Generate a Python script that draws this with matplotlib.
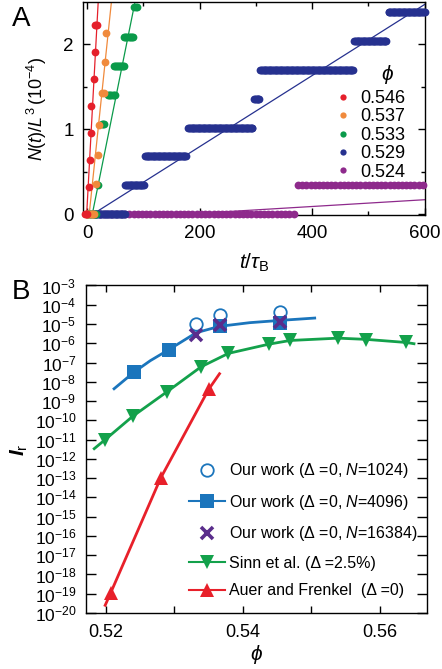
import numpy as np
import matplotlib
matplotlib.use('Agg')
import matplotlib.pyplot as plt
from matplotlib.ticker import FixedLocator, FixedFormatter
from matplotlib.lines import Line2D

plt.rcParams['font.family'] = ['Liberation Sans', 'DejaVu Sans']
plt.rcParams['mathtext.fontset'] = 'custom'
plt.rcParams['mathtext.rm'] = 'Liberation Sans'
plt.rcParams['mathtext.it'] = 'Liberation Sans:italic'
plt.rcParams['mathtext.bf'] = 'Liberation Sans:bold'
plt.rcParams['mathtext.bfit'] = 'Liberation Sans:italic:bold'
plt.rcParams['axes.linewidth'] = 1.0

# ---------------- Panel A data ----------------
phi_a = ['0.546', '0.537', '0.533', '0.529', '0.524']
colors_a = ['#e5202b', '#f08a3c', '#0a9a4a', '#26318f', '#8e2a8c']
# steps: (N/L^3 level, first sample time, last sample time)
steps_546 = [(0, -4, 0), (0.32, 4, 4), (0.64, 5, 5), (0.96, 6, 6), (1.28, 7.5, 7.5),
             (1.59, 11.5, 11.5), (1.91, 13, 13), (2.23, 14, 17)]
steps_537 = [(0, 0, 12), (0.36, 15, 16), (0.70, 19, 19), (1.05, 20.5, 20.5),
             (1.43, 27, 29), (1.79, 31, 31), (2.13, 33, 33)]
steps_533 = [(0, 0, 15), (0.34, 19.5, 19.5), (1.06, 27, 30), (1.40, 37, 49),
             (1.75, 47, 66), (2.09, 65, 82), (2.44, 84, 88)]
steps_529 = [(0, 10, 67), (0.34, 68, 101), (0.68, 103, 176), (1.02, 180, 294),
             (1.36, 297, 306), (1.70, 308, 473), (2.04, 475, 532), (2.38, 536, 600)]
steps_524 = [(0, 0, 367), (0.34, 375, 597)]
sample_dt = [2.0, 2.0, 2.0, 1.5, 7.5]
# fitted straight lines: (t_start, t_end), (y_start, y_end)
fit_t = [(-1, 19.5), (3.5, 43), (9, 85), (10, 600), (174, 600)]
fit_y = [(0, 2.5), (0, 2.5), (0, 2.5), (0, 2.47), (0, 0.17)]

# ---------------- Panel B data ----------------
phi_1024 = [0.5332, 0.5366, 0.5455]
I_1024 = [1.0e-5, 3.0e-5, 4.0e-5]
phi_4096 = [0.5241, 0.5292, 0.5366, 0.5455]
I_4096 = [3.2e-8, 4.7e-7, 8.0e-6, 1.2e-5]
fit4096_phi = [0.5212, 0.5241, 0.5265, 0.5292, 0.5332, 0.5366, 0.5410, 0.5455, 0.5505]
fit4096_I = [10**-8.36, 10**-7.5, 10**-6.9, 10**-6.33, 10**-5.45, 10**-5.12, 10**-4.93, 10**-4.81, 10**-4.69]
phi_16384 = [0.5332, 0.5366, 0.5455]
I_16384 = [2.8e-6, 9.0e-6, 1.3e-5]
phi_sinn = [0.5199, 0.5239, 0.5289, 0.5339, 0.5379, 0.5438, 0.5469, 0.5539, 0.5580, 0.5639]
I_sinn = [1.0e-11, 1.6e-10, 3.0e-9, 6.0e-8, 3.0e-7, 9.0e-7, 1.5e-6, 1.9e-6, 1.5e-6, 1.1e-6]
fitsinn_phi = [0.5183, 0.5199, 0.5239, 0.5289, 0.5339, 0.5379, 0.5438, 0.5469, 0.5539, 0.5580, 0.5639, 0.5650]
fitsinn_I = [10**-11.47, 1.0e-11, 1.6e-10, 3.0e-9, 6.0e-8, 3.0e-7, 9.0e-7, 1.4e-6, 1.85e-6, 1.6e-6, 1.1e-6, 0.95e-6]
phi_af = [0.5207, 0.5280, 0.5350]
I_af = [1.1e-19, 1.0e-13, 4.0e-9]
fitaf_phi = [0.5199, 0.5207, 0.5280, 0.5350, 0.5366]
fitaf_I = [10**-19.6, 1.1e-19, 1.0e-13, 4.0e-9, 10**-7.58]
legend_b = ['Our work (\u0394 =0, $N$=1024)', 'Our work (\u0394 =0, $N$=4096)',
            'Our work (\u0394 =0, $N$=16384)', 'Sinn et al. (\u0394 =2.5%)',
            'Auer and Frenkel  (\u0394 =0)']
decades = list(range(-20, -2))

W, H = 442, 669
fig = plt.figure(figsize=(W / 100, H / 100), dpi=100)

def fx(px):
    return px / W

def fy(py):
    return 1 - py / H

# ---------------- Panel A ----------------
axA = fig.add_axes([fx(83.3), fy(215), fx(424.5) - fx(83.3), fy(2) - fy(215)])
all_steps = [steps_546, steps_537, steps_533, steps_529, steps_524]
for c, (t0, t1), (y0, y1) in zip(colors_a, fit_t, fit_y):
    axA.plot([t0, t1], [y0, y1], color=c, lw=0.9, zorder=2)
order = [4, 3, 2, 1, 0]
for i in order:
    ts, ys = [], []
    for lev, t0, t1 in all_steps[i]:
        n = max(1, int(round((t1 - t0) / sample_dt[i])) + 1)
        tt = np.linspace(t0, t1, n)
        ts.extend(tt)
        ys.extend([lev] * n)
    axA.plot(ts, ys, 'o', color=colors_a[i], ms=5.6, mew=0, clip_on=False, zorder=3 + (5 - i))

axA.set_xlim(-7, 600)
axA.set_ylim(-0.01, 2.5)
axA.xaxis.set_major_locator(FixedLocator([0, 200, 400, 600]))
axA.xaxis.set_minor_locator(FixedLocator([100, 300, 500]))
axA.yaxis.set_major_locator(FixedLocator([0, 1, 2]))
axA.yaxis.set_minor_locator(FixedLocator([0.5, 1.5]))
axA.tick_params(which='both', direction='in', top=True, right=True, labelsize=13.5)
axA.tick_params(which='major', length=5, width=1.0, pad=7)
axA.tick_params(which='minor', length=3, width=1.0)
axA.set_ylabel(r'$N(t)/L^{3}\,(10^{-4})$', fontsize=13, labelpad=10)
axA.set_xlabel(r'$t/\tau_{\mathrm{B}}$', fontsize=15, labelpad=7)

handles = [Line2D([], [], marker='o', ls='none', color=c, ms=4.5, mew=0) for c in colors_a]
axA.legend(handles, phi_a, loc='upper left', bbox_to_anchor=(fx(335), fy(90)),
           bbox_transform=fig.transFigure, frameon=False, fontsize=13,
           handlelength=0.9, handletextpad=0.5, labelspacing=0.08,
           borderpad=0, borderaxespad=0)
fig.text(fx(387), fy(75), r'$\phi$', fontsize=15, ha='center', va='center')
fig.text(fx(12), fy(6), 'A', fontsize=20, ha='left', va='top')

# ---------------- Panel B ----------------
axB = fig.add_axes([fx(86), fy(613), fx(427) - fx(86), fy(285.5) - fy(613)])
axB.set_yscale('log')
axB.plot(fit4096_phi, fit4096_I, color='#1b75bc', lw=2.0, zorder=2)
axB.plot(fitsinn_phi, fitsinn_I, color='#13a14b', lw=2.0, zorder=2)
axB.plot(fitaf_phi, fitaf_I, color='#e8202a', lw=2.0, zorder=2)
axB.plot(phi_4096, I_4096, 's', color='#1b75bc', ms=9.5, mew=0, zorder=3)
axB.plot(phi_1024, I_1024, 'o', mfc='none', mec='#1b75bc', ms=9, mew=1.3, zorder=4)
axB.plot(phi_16384, I_16384, 'x', color='#5a2d8c', ms=9, mew=2.6, zorder=5)
axB.plot(phi_sinn, I_sinn, 'v', color='#13a14b', ms=9.5, mew=0, zorder=3)
axB.plot(phi_af, I_af, '^', color='#e8202a', ms=9.5, mew=0, zorder=3)

axB.set_xlim(0.5171, 0.5669)
axB.set_ylim(1e-20, 1e-3)
axB.xaxis.set_major_locator(FixedLocator([0.52, 0.54, 0.56]))
axB.xaxis.set_minor_locator(FixedLocator([0.53, 0.55]))
axB.xaxis.set_major_formatter(FixedFormatter(['0.52', '0.54', '0.56']))
ticks = [10.0 ** d for d in decades]
axB.yaxis.set_major_locator(FixedLocator(ticks))
axB.yaxis.set_major_formatter(FixedFormatter([r'$10^{%d}$' % d for d in decades]))
axB.yaxis.set_minor_locator(FixedLocator([]))
axB.tick_params(which='both', direction='in', top=True, right=True)
axB.tick_params(axis='x', which='major', length=5, width=1.0, pad=8, labelsize=13)
axB.tick_params(axis='x', which='minor', length=5, width=1.0)
axB.tick_params(axis='y', which='major', length=7, width=1.0, pad=7, labelsize=12.5)
axB.set_xlabel(r'$\phi$', fontsize=15, labelpad=1)
axB.set_ylabel(r'$\mathbfit{I}_{\mathrm{r}}$', fontsize=15, labelpad=3)

hb = [Line2D([], [], marker='o', ls='none', mfc='none', mec='#1b75bc', ms=9, mew=1.3),
      Line2D([], [], marker='s', color='#1b75bc', ms=9.5, mew=0, lw=1.5),
      Line2D([], [], marker='x', ls='none', color='#5a2d8c', ms=9, mew=2.6),
      Line2D([], [], marker='v', color='#13a14b', ms=9.5, mew=0, lw=1.5),
      Line2D([], [], marker='^', color='#e8202a', ms=9.5, mew=0, lw=1.5)]
axB.legend(hb, legend_b, loc='upper left', bbox_to_anchor=(fx(189), fy(461.5)),
           bbox_transform=fig.transFigure, frameon=False, fontsize=11.5,
           handlelength=2.25, handletextpad=0.25, labelspacing=0.78,
           borderpad=0, borderaxespad=0)
fig.text(fx(12), fy(279), 'B', fontsize=20, ha='left', va='top')

fig.savefig('out.png', dpi=100)
